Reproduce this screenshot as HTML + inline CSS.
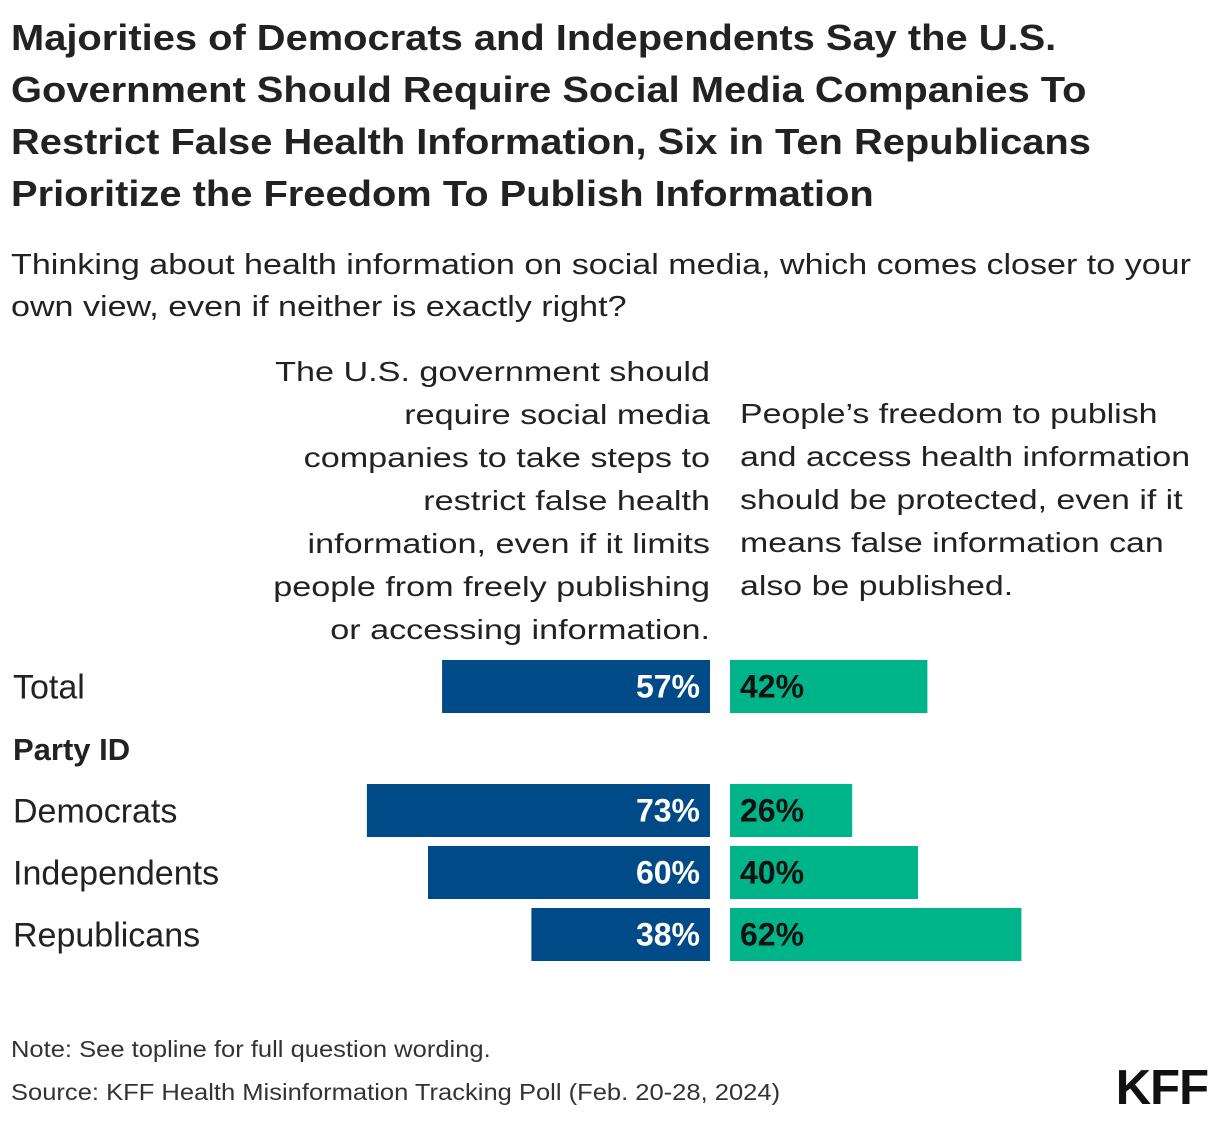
<!DOCTYPE html>
<html><head><meta charset="utf-8"><style>
body{margin:0;background:#fff;width:1220px;height:1122px;position:relative;font-family:"Liberation Sans",sans-serif;color:#222;overflow:hidden}
.t{position:absolute;white-space:nowrap}
#title{transform:scaleX(1.107);transform-origin:0 0}
#title div{font-weight:bold;font-size:36px;height:52px;line-height:52px;color:#222}
.sub{font-size:29px;line-height:42px;transform:scaleX(1.175);transform-origin:0 0}
.hdr{font-size:28px;line-height:43px}
.note{font-size:23px;color:#333;transform:scaleX(1.11);transform-origin:0 0}
</style></head><body>
<div id="title" class="t" style="left:11px;top:12px">
<div>Majorities of Democrats and Independents Say the U.S.</div>
<div>Government Should Require Social Media Companies To</div>
<div>Restrict False Health Information, Six in Ten Republicans</div>
<div>Prioritize the Freedom To Publish Information</div>
</div>
<div class="t sub" style="left:11px;top:244px">Thinking about health information on social media, which comes closer to your<br>own view, even if neither is exactly right?</div>
<div class="t hdr" style="right:510px;top:350px;text-align:right;transform:scaleX(1.22);transform-origin:100% 0">The U.S. government should<br>require social media<br>companies to take steps to<br>restrict false health<br>information, even if it limits<br>people from freely publishing<br>or accessing information.</div>
<div class="t hdr" style="left:740px;top:392px;transform:scaleX(1.21);transform-origin:0 0">People’s freedom to publish<br>and access health information<br>should be protected, even if it<br>means false information can<br>also be published.</div>
<div class="t" style="left:13px;top:732px;font-weight:bold;font-size:31px">Party ID</div>
<svg id="chart" width="1220" height="1122" style="position:absolute;left:0;top:0"></svg>
<div class="t note" style="left:11px;top:1036px">Note: See topline for full question wording.</div>
<div class="t note" style="left:11px;top:1079px">Source: KFF Health Misinformation Tracking Poll (Feb. 20-28, 2024)</div>
<div class="t" style="right:12px;top:1060px;font-size:49px;font-weight:bold;color:#111;letter-spacing:-1px">KFF</div>
<script>
const categories=["Total","Democrats","Independents","Republicans"];
const restrictValues=[57,73,60,38];
const freedomValues=[42,26,40,62];
const rowTops=[660,784,846,908];
const NS="http://www.w3.org/2000/svg";
const svg=document.getElementById('chart');
const mid=710,gap=20,scale=4.7,bh=53;
function x(v){return v*scale;}
function mk(tag,attrs){const e=document.createElementNS(NS,tag);for(const k in attrs)e.setAttribute(k,attrs[k]);svg.appendChild(e);return e;}
categories.forEach((c,i)=>{
 const y=rowTops[i];
 const lb=mk('text',{x:13,y:y+bh/2+12,'font-size':34,fill:'#222','font-family':'Liberation Sans'});lb.textContent=c;
 
 
 const b1=mk('rect',{x:mid-x(restrictValues[i]),y:y,width:x(restrictValues[i]),height:bh,fill:'#004A87'});
 
 
 const t1=mk('text',{x:mid-10,y:y+bh/2+11,'font-size':32,'font-weight':'bold',fill:'#fff','text-anchor':'end','font-family':'Liberation Sans'});t1.textContent=restrictValues[i]+'%';
 
 
 const b2=mk('rect',{x:mid+gap,y:y,width:x(freedomValues[i]),height:bh,fill:'#00B48A'});
 
 
 const t2=mk('text',{x:mid+gap+10,y:y+bh/2+11,'font-size':32,'font-weight':'bold',fill:'#111','font-family':'Liberation Sans'});t2.textContent=freedomValues[i]+'%';
 
 
});
</script>
</body></html>
